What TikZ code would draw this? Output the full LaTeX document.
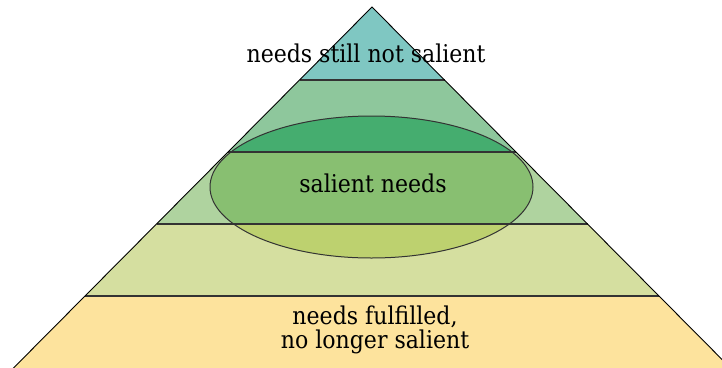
\documentclass[tikz,border=0pt]{standalone}
\usepackage{fontspec}
\setmainfont{DejaVu Serif Condensed}
\definecolor{bandA}{HTML}{7FC7C2}
\definecolor{bandB}{HTML}{8EC79C}
\definecolor{bandC}{HTML}{AFD39F}
\definecolor{bandD}{HTML}{D5DFA0}
\definecolor{bandE}{HTML}{FDE39D}
\definecolor{ellB}{HTML}{45AD6F}
\definecolor{ellC}{HTML}{88BF71}
\definecolor{ellD}{HTML}{BDD16F}
\definecolor{lineclr}{HTML}{333333}
\tikzset{
  bandline/.style={draw=lineclr, line width=1.8pt},
  edgeline/.style={draw=black, line width=0.9pt},
  ellline/.style={draw=lineclr, line width=1pt},
  lbl/.style={font=\fontsize{24.5}{24.5}\selectfont, text=black, align=center, inner sep=0pt}
}
\begin{document}
\begin{tikzpicture}[x=1pt,y=-1pt]
\useasboundingbox (0,0) rectangle (722,367);
\clip (0,0) rectangle (722,367);
% pyramid corner points
\coordinate (apex) at (372,7);
\coordinate (l1) at (299.5,80);  \coordinate (r1) at (444.5,80);
\coordinate (l2) at (228,152);   \coordinate (r2) at (516,152);
\coordinate (l3) at (156.5,224); \coordinate (r3) at (587.5,224);
\coordinate (l4) at (85,296);    \coordinate (r4) at (659,296);
\coordinate (l5) at (13,368.5);  \coordinate (r5) at (731,368.5);
% bands
\fill[bandA] (apex) -- (r1) -- (l1) -- cycle;
\fill[bandB] (l1) -- (r1) -- (r2) -- (l2) -- cycle;
\fill[bandC] (l2) -- (r2) -- (r3) -- (l3) -- cycle;
\fill[bandD] (l3) -- (r3) -- (r4) -- (l4) -- cycle;
\fill[bandE] (l4) -- (r4) -- (r5) -- (l5) -- cycle;
% ellipse fills per band
\coordinate (ec) at (371.5,187);
\begin{scope}
  \clip (0,0) rectangle (722,152);
  \fill[ellB] (ec) ellipse [x radius=161.5, y radius=71];
\end{scope}
\begin{scope}
  \clip (0,152) rectangle (722,224);
  \fill[ellC] (ec) ellipse [x radius=161.5, y radius=71];
\end{scope}
\begin{scope}
  \clip (0,224) rectangle (722,367);
  \fill[ellD] (ec) ellipse [x radius=161.5, y radius=71];
\end{scope}
% band lines
\draw[bandline] (l1) -- (r1);
\draw[bandline] (l2) -- (r2);
\draw[bandline] (l3) -- (r3);
\draw[bandline] (l4) -- (r4);
% ellipse outline
\draw[ellline] (ec) ellipse [x radius=161.5, y radius=71];
% pyramid edges
\draw[edgeline] (l5) -- (apex) -- (r5);
% labels
\node[lbl] (top) at (366,53) {needs still not salient};
\node[lbl] (mid) at (373,183) {salient needs};
\node[lbl] (bot) at (375,330) {needs fulfilled,\\no longer salient};
\end{tikzpicture}
\end{document}
